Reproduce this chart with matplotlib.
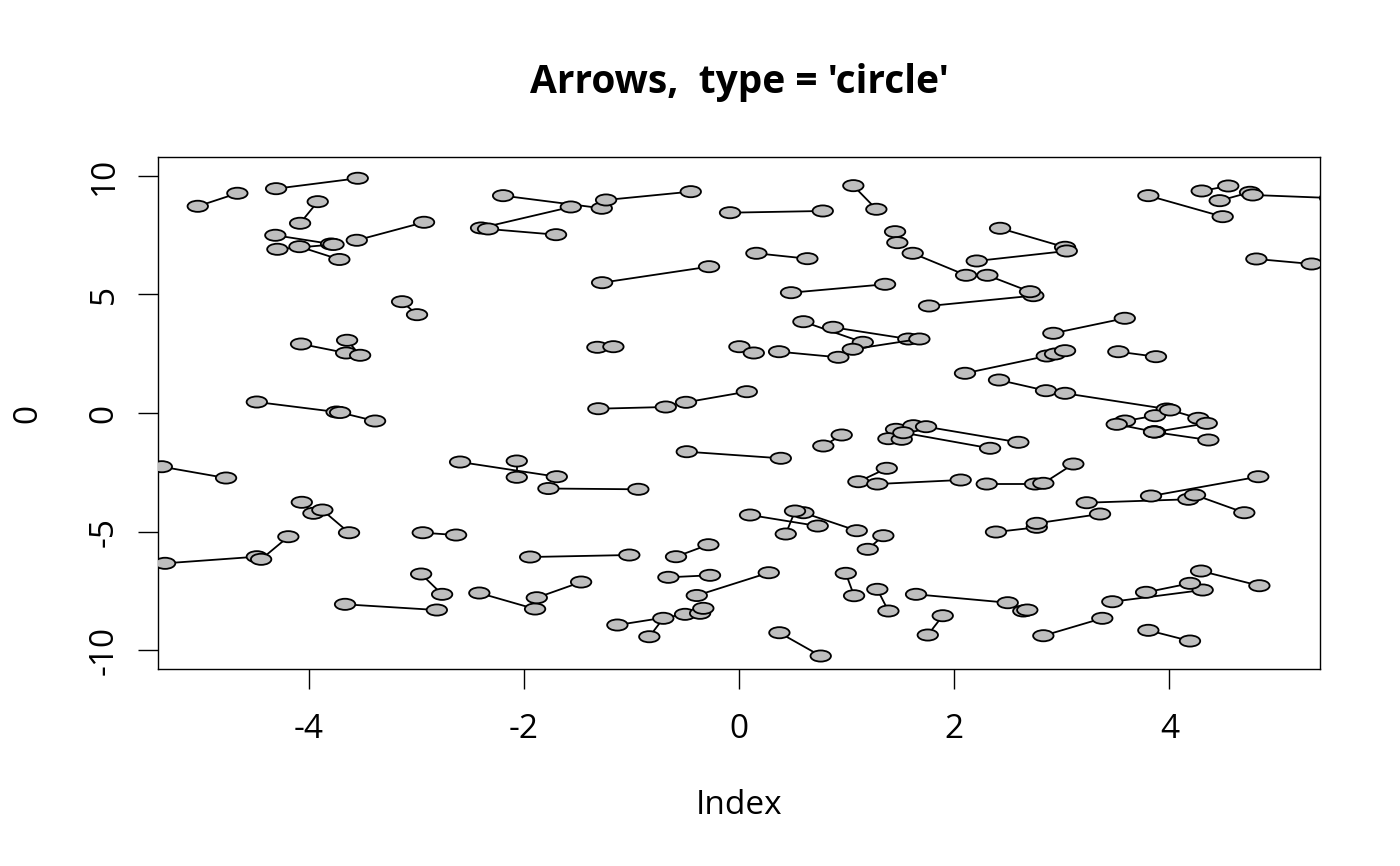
import matplotlib
matplotlib.use("Agg")
import matplotlib.pyplot as plt
from matplotlib.patches import Ellipse

plt.rcParams['font.family'] = ['Open Sans', 'Noto Sans', 'DejaVu Sans']
plt.rcParams['axes.unicode_minus'] = False

# start and end points of each arrow
x0 = [-5.031, -4.303, -3.916, -4.310, -4.291, -4.086, -3.553, -3.132, -4.071, -3.643,
      -4.482, -3.708, -2.193, -2.398, -2.333, -1.236, -0.084, 1.062, 1.450, 1.614,
      0.161, -1.273, 0.483, 1.766, 0.598, 0.874, 0.372, 1.057, -1.317, 0.003,
      -1.308, -0.493, 3.804, 4.300, 4.467, 4.774, 4.808, 2.426, 2.209, 2.308,
      2.921, 2.100, 2.937, 3.525, 2.416, 3.030, -5.365, -2.593, -2.066, -1.772,
      -4.064, -3.873, -2.940, -5.335, -4.442, -2.955, -3.662, -2.414, -1.880, -1.942,
      -0.486, 0.783, 1.459, 1.388, 1.738, 1.527, 1.109, 1.285, 0.102, 0.598,
      0.520, 1.341, -0.285, -0.657, 0.276, 0.992, 1.285, 1.645, 1.754, -1.131,
      -0.834, -0.362, 0.375, 3.587, 4.006, 3.510, 4.347, 3.857, 2.302, 2.828,
      3.231, 3.829, 4.238, 2.388, 2.767, 4.294, 3.469, 3.783, 2.642, 2.828,
      3.804]
y0 = [8.721, 9.464, 8.916, 7.498, 6.907, 7.017, 7.287, 4.696, 2.911, 3.068,
      0.464, 0.021, 9.169, 7.806, 7.764, 8.987, 8.451, 9.591, 7.650, 6.738,
      6.738, 5.498, 5.076, 4.515, 3.852, 3.616, 2.586, 2.688, 2.772, 2.797,
      0.181, 0.451, 9.169, 9.367, 8.958, 9.198, 6.498, 7.793, 6.414, 5.810,
      3.363, 1.675, 2.489, 2.586, 1.392, 0.831, -2.266, -2.068, -2.025, -3.186,
      -3.768, -4.093, -5.051, -6.342, -6.173, -6.793, -8.072, -7.595, -7.793, -6.076,
      -1.633, -1.392, -0.688, -1.084, -0.578, -0.831, -2.899, -2.996, -4.304, -4.207,
      -4.135, -5.177, -5.557, -6.932, -6.738, -6.764, -7.439, -7.650, -9.367, -8.945,
      -9.439, -8.451, -9.270, -0.338, 0.127, -0.477, -0.435, -0.802, -2.996, -2.966,
      -3.785, -3.502, -3.460, -5.021, -4.654, -6.667, -7.962, -7.565, -8.354, -9.397,
      -9.169]
x1 = [-4.663, -3.544, -4.080, -3.792, -3.769, -3.715, -2.928, -2.993, -3.652, -3.522,
      -3.741, -3.383, -1.276, -1.564, -1.701, -0.449, 0.778, 1.276, 1.471, 2.110,
      0.635, -0.279, 1.357, 2.735, 1.150, 1.573, 0.923, 1.676, -1.168, 0.137,
      -0.681, 0.072, 4.495, 4.547, 4.749, 5.493, 5.322, 3.030, 3.046, 2.704,
      3.585, 2.860, 3.030, 3.875, 2.853, 3.975, -4.768, -1.694, -2.066, -0.936,
      -3.956, -3.625, -2.630, -4.482, -4.189, -2.760, -2.809, -1.896, -1.468, -1.020,
      0.388, 0.954, 1.620, 1.512, 2.596, 2.333, 1.373, 2.060, 0.731, 1.094,
      0.434, 1.196, -0.586, -0.270, -0.393, 1.069, 1.388, 2.497, 1.893, -0.502,
      -0.704, -0.332, 0.759, 3.866, 4.269, 3.857, 3.866, 4.362, 2.751, 3.107,
      4.176, 4.826, 4.696, 2.767, 3.355, 4.836, 4.309, 4.191, 2.679, 3.376,
      4.191]
y1 = [9.270, 9.903, 8.004, 7.131, 7.110, 6.477, 8.046, 4.148, 2.532, 2.435,
      0.042, -0.338, 8.637, 8.692, 7.523, 9.338, 8.523, 8.595, 7.186, 5.810,
      6.511, 6.173, 5.430, 4.949, 2.983, 3.122, 2.350, 3.122, 2.797, 2.532,
      0.253, 0.899, 8.283, 9.578, 9.312, 9.072, 6.287, 6.992, 6.835, 5.118,
      3.996, 2.405, 2.629, 2.376, 0.941, 0.169, -2.743, -2.688, -2.713, -3.219,
      -4.232, -5.051, -5.148, -6.063, -5.219, -7.650, -8.312, -8.270, -7.131, -5.992,
      -1.911, -0.928, -0.536, -1.110, -1.236, -1.489, -2.333, -2.827, -4.768, -4.966,
      -5.105, -5.751, -6.063, -6.848, -7.700, -7.709, -8.354, -8.004, -8.553, -8.494,
      -8.662, -8.241, -10.253, -0.114, -0.224, -0.789, -0.802, -1.139, -2.996, -2.152,
      -3.641, -2.688, -4.207, -4.823, -4.262, -7.287, -7.468, -7.186, -8.312, -8.662,
      -9.620]

xticks = [-4, -2, 0, 2, 4]
yticks = [-10, -5, 0, 5, 10]

fig = plt.figure(figsize=(14, 8.66), dpi=100)
ax = fig.add_axes([0.1129, 0.2275, 0.83, 0.5912])

# segment first, then a circle at each end, arrow by arrow like R does
for i in range(len(x0)):
    ax.plot([x0[i], x1[i]], [y0[i], y1[i]], color='black', lw=1.3, zorder=3)
    for xx, yy in ((x0[i], y0[i]), (x1[i], y1[i])):
        ax.add_patch(Ellipse((xx, yy), 0.19, 0.47, facecolor='#bebebe',
                             edgecolor='black', lw=1.3, zorder=3))

ax.set_xlim(-5.4, 5.4)
ax.set_ylim(-10.8, 10.8)
ax.set_xticks(xticks)
ax.set_yticks(yticks)
ax.set_xticklabels([str(t) for t in xticks])
ax.set_yticklabels([str(t) for t in yticks], rotation=90, va='center')
ax.tick_params(length=14.4, width=1, labelsize=24, color='black')
ax.tick_params(axis='x', pad=17)
ax.tick_params(axis='y', pad=12.5)
for s in ax.spines.values():
    s.set_linewidth(1)

ax.set_xlabel('Index', fontsize=24, labelpad=31)
ax.set_ylabel('0', fontsize=24, labelpad=31)
ax.set_title("Arrows,  type = 'circle'", fontsize=28, fontweight='bold', pad=46)

fig.savefig('out.png', dpi=100)
